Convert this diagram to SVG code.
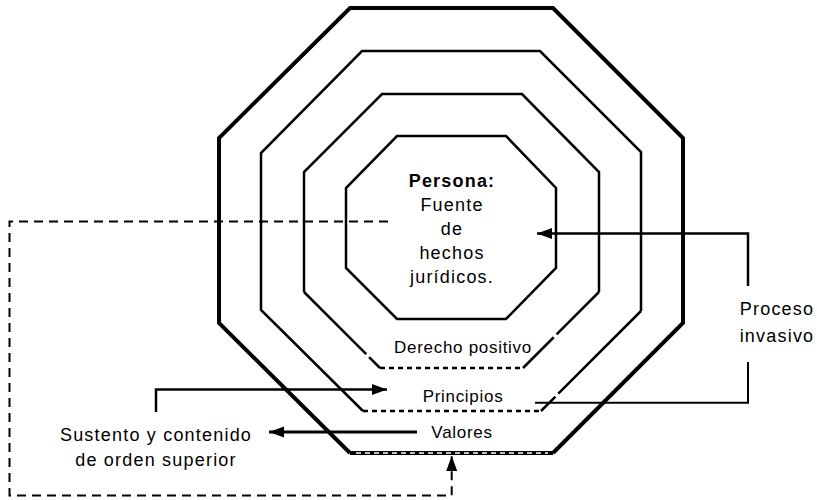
<svg xmlns="http://www.w3.org/2000/svg" width="817" height="500" viewBox="0 0 817 500">
<style>
  .ring { fill: none; stroke: #000; stroke-width: 2.5; stroke-linejoin: miter; }
  .outer { fill: none; stroke: #000; stroke-width: 4; stroke-linejoin: miter; }
  .dotted { fill: none; stroke: #000; stroke-width: 2.5; stroke-dasharray: 5 4; }
  .whitedash { fill: none; stroke: #fff; stroke-width: 1.3; stroke-dasharray: 5 4; }
  .conn { fill: none; stroke: #000; stroke-width: 2.5; }
  .dash { fill: none; stroke: #000; stroke-width: 2; stroke-dasharray: 9 6; }
  text { font-family: "Liberation Sans", Arial, sans-serif; fill: #000; text-anchor: middle; }
  .big { font-size: 18px; letter-spacing: 1.2px; }
  .bold { font-weight: bold; }
  .lbl { font-size: 17px; letter-spacing: 0.7px; }
</style>
<defs>
  <marker id="arrow" markerUnits="userSpaceOnUse" markerWidth="16" markerHeight="12" refX="15" refY="5.5" orient="auto">
    <path d="M0,0 L15,5.5 L0,11 z" fill="#000"/>
  </marker>
</defs>
<rect width="817" height="500" fill="#fff"/>

<g id="ring-valores">
  <polyline class="outer" points="350,453 219,323 219,138 350,8 553,8 683,138 683,323 553,453"/>
  <line class="outer" x1="350" y1="453" x2="553" y2="453"/>
  <line class="whitedash" x1="356" y1="453" x2="548" y2="453"/>
  <text class="lbl" x="462" y="438">Valores</text>
</g>

<g id="ring-principios">
  <polyline class="ring" points="363,411 261,310 261,153 362,51 540,51 641,152 641,311"/>
  <line class="ring" x1="641" y1="311" x2="541" y2="411" stroke-dasharray="117 4 40"/>
  <line class="dotted" x1="363" y1="411" x2="541" y2="411"/>
  <text class="lbl" x="463" y="402">Principios</text>
</g>

<g id="ring-derecho">
  <polyline class="ring" points="599,292 599,172 522,94 382,94 304,172 304,292"/>
  <line class="ring" x1="304" y1="292" x2="380" y2="368" stroke-dasharray="88 4 30"/>
  <line class="ring" x1="599" y1="292" x2="523" y2="368" stroke-dasharray="60 4 60"/>
  <line class="dotted" x1="380" y1="368" x2="523" y2="368"/>
  <text class="lbl" x="463" y="353">Derecho positivo</text>
</g>

<g id="persona">
  <polygon class="ring" points="397,136 506,136 556,188 556,268 506,319 397,319 346,268 346,188"/>
  <text class="big bold" x="452" y="186.5">Persona:</text>
  <text class="big" x="452" y="210.5">Fuente</text>
  <text class="big" x="452" y="234.5">de</text>
  <text class="big" x="452" y="258.5">hechos</text>
  <text class="big" x="452" y="282.5">jurídicos.</text>
</g>

<g id="sustento">
  <text class="big" x="156" y="441">Sustento y contenido</text>
  <text class="big" x="156" y="466">de orden superior</text>
</g>

<g id="proceso">
  <text class="big" x="777" y="315">Proceso</text>
  <text class="big" x="777" y="341.5">invasivo</text>
</g>

<g id="connectors">
  <path class="conn" d="M748,286 V233.5 H537" marker-end="url(#arrow)"/>
  <path class="conn" d="M748,362 V402.7 H535" style="stroke-width:2"/>
  <path class="conn" d="M156,412 V389.5 H387" marker-end="url(#arrow)"/>
  <path class="conn" d="M417,432 H269" style="stroke-width:3" marker-end="url(#arrow)"/>
  <path class="dash" d="M388,221.5 H9.5 V495.5 H451.7 V456" marker-end="url(#arrow)"/>
</g>
</svg>
